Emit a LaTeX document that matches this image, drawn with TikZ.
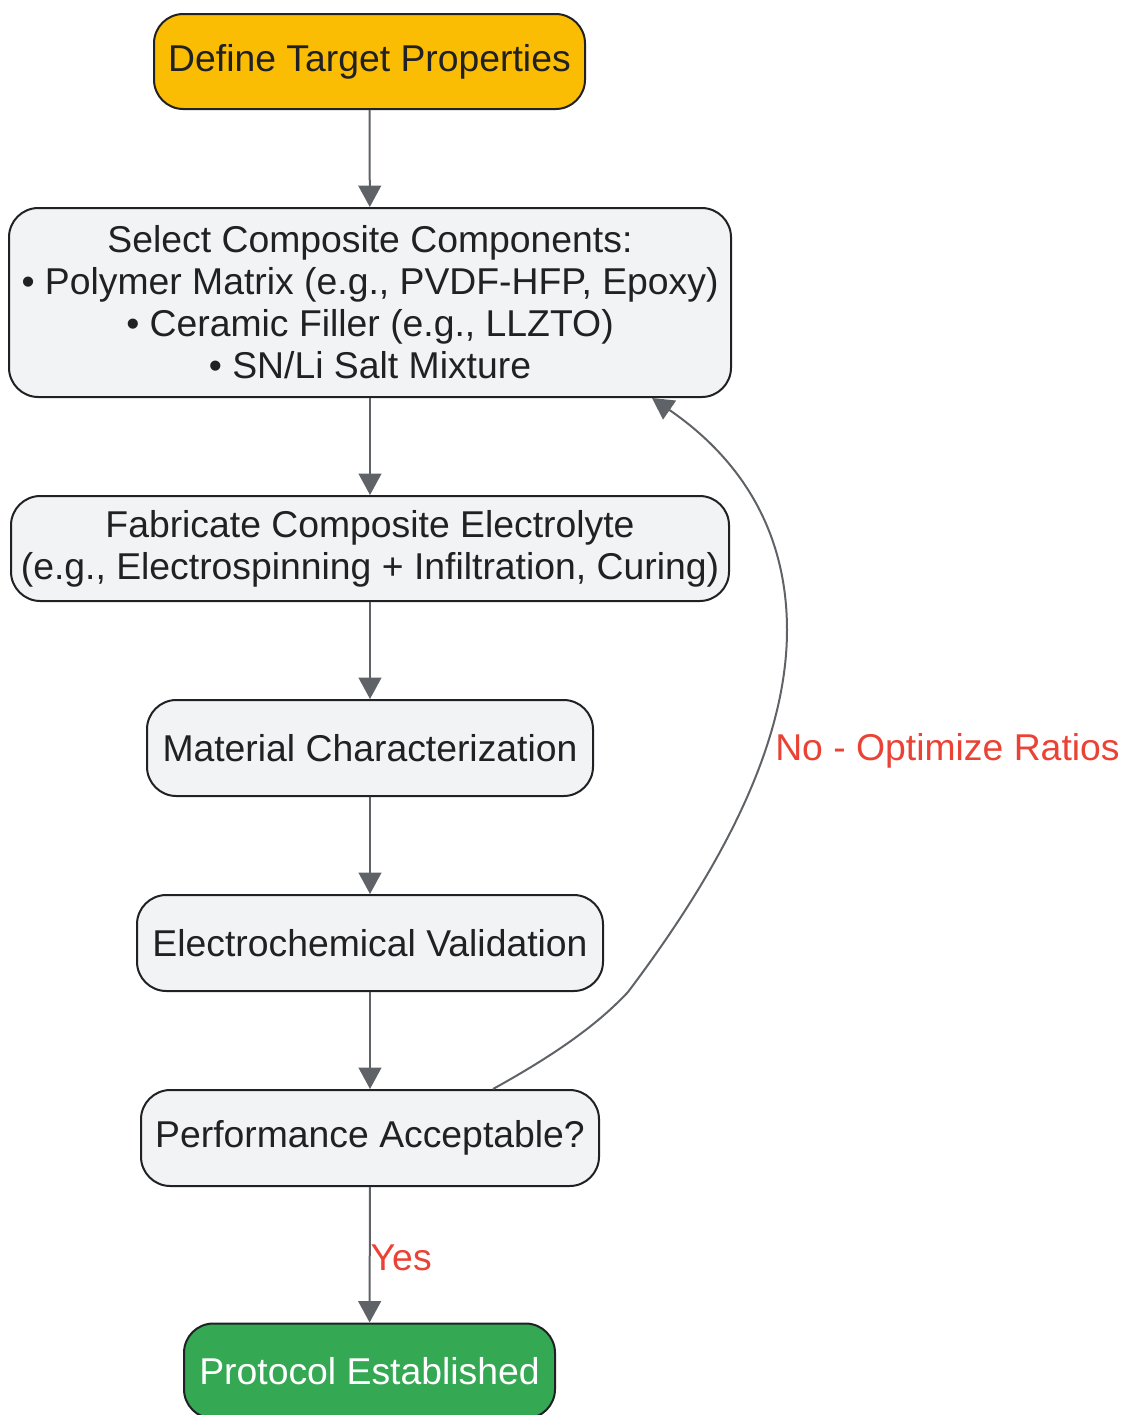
\documentclass[tikz,border=0pt]{standalone}
\usepackage{fontspec}
\setmainfont{Liberation Sans}
\usetikzlibrary{arrows.meta,calc}

\definecolor{boxgray}{HTML}{F1F3F4}
\definecolor{boxline}{HTML}{202124}
\definecolor{startorange}{HTML}{FBBC04}
\definecolor{endgreen}{HTML}{34A853}
\definecolor{edgegray}{HTML}{5F6368}
\definecolor{labelred}{HTML}{EA4335}

\tikzset{
  stepbox/.style={draw=boxline, line width=1.5pt, fill=boxgray, rounded corners=22pt,
    align=center, inner sep=0pt, text=boxline,
    font=\fontsize{28}{31.5}\selectfont},
  flow/.style={draw=edgegray, line width=1.5pt,
    -{Triangle[length=16pt,width=17pt]}},
  edgelabel/.style={text=labelred, inner sep=0pt,
    font=\fontsize{28}{31.5}\selectfont}
}

\begin{document}
\begin{tikzpicture}[x=0.75pt,y=-0.75pt]
\useasboundingbox (0,0) rectangle (1123,1415);

% boites du diagramme
\node[stepbox, fill=startorange, minimum width=323.25pt, minimum height=71.25pt] (def) at (369.5,61.5)
  {Define Target Properties};
\node[stepbox, minimum width=541.5pt, minimum height=141.75pt] (sel) at (370,302.5)
  {Select Composite Components:\\
   • Polymer Matrix (e.g., PVDF-HFP, Epoxy)\\
   • Ceramic Filler (e.g., LLZTO)\\
   • SN/Li Salt Mixture};
\node[stepbox, minimum width=538.5pt, minimum height=78.75pt] (fab) at (370,548.5)
  {Fabricate Composite Electrolyte\\
   (e.g., Electrospinning + Infiltration, Curing)};
\node[stepbox, minimum width=334.5pt, minimum height=72pt] (mat) at (370,748)
  {Material Characterization};
\node[stepbox, minimum width=349.5pt, minimum height=72pt] (ele) at (370,943)
  {Electrochemical Validation};
\node[stepbox, minimum width=343.5pt, minimum height=72pt] (perf) at (370,1138)
  {Performance Acceptable?};
\node[stepbox, fill=endgreen, text=white, minimum width=278.25pt, minimum height=71.25pt] (prot) at (369.5,1371)
  {Protocol Established};

% fleches
\draw[flow] (def) -- (sel);
\draw[flow] (sel) -- (fab);
\draw[flow] (fab) -- (mat);
\draw[flow] (mat) -- (ele);
\draw[flow] (ele) -- (perf);
\draw[flow] (perf) -- node[edgelabel, anchor=west, pos=0.52] (yes) {Yes} (prot);

% boucle de retour
\coordinate (loopA) at ($(perf.north)+(123,0)$);
\coordinate (loopB) at ($(sel.south)+(282,0)$);
\draw[flow] (loopA) .. controls (560,1052) and (600,1022) .. (628,992)
  .. controls (720,870) and (787,745) .. (787,630)
  .. controls (787,525) and (735,455) .. (loopB);
\node[edgelabel, anchor=west] (no) at (775,751) {No - Optimize Ratios};

\end{tikzpicture}
\end{document}
